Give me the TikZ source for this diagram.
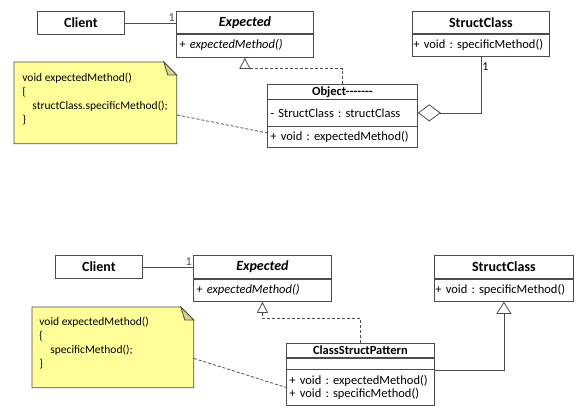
\documentclass[tikz,border=0pt]{standalone}
\usepackage{fontspec}
\setmainfont{Carlito}
\usetikzlibrary{arrows.meta,calc}
\definecolor{umlline}{rgb}{0.3,0.3,0.3}
\definecolor{noteyellow}{rgb}{1,1,0.6}
\definecolor{notefold}{rgb}{0.85,0.84,0.55}

\tikzset{
  classhead/.style={draw=umlline, fill=white, anchor=north west, inner sep=0pt, font=\fontsize{14}{16}\selectfont\bfseries},
  smallhead/.style={classhead, font=\fontsize{12.5}{14}\selectfont\bfseries},
  classbody/.style={draw=umlline, fill=white, anchor=north west, inner xsep=3pt, inner ysep=0pt, align=left, font=\fontsize{12.5}{13}\selectfont},
  notebox/.style={anchor=north west, inner sep=0pt},
  notetext/.style={anchor=north west, inner sep=0pt, align=left, font=\fontsize{11.5}{14}\selectfont},
  realize/.style={draw=umlline, dash pattern=on 3pt off 2pt, -{Triangle[open,length=11pt,width=11pt]}},
  inherit/.style={draw=umlline, -{Triangle[open,length=12pt,width=15pt]}},
  aggreg/.style={draw=umlline, {Diamond[open,length=23pt,width=17pt]}-},
  notelink/.style={draw=umlline, dash pattern=on 3pt off 2pt},
  mult/.style={font=\fontsize{12}{14}\selectfont, inner sep=1pt}
}

\newcommand{\notefolded}[1]{%
  \fill[noteyellow, draw=umlline] (#1.north west) -- ($(#1.north east)+(-13,0)$) -- ($(#1.north east)+(0,13)$) -- (#1.south east) -- (#1.south west) -- cycle;
  \fill[notefold, draw=umlline] ($(#1.north east)+(-13,0)$) -- ($(#1.north east)+(0,13)$) -- ($(#1.north east)+(-9,13)$) -- cycle;
}

\begin{document}
\frenchspacing
\begin{tikzpicture}[x=1pt,y=-1pt,line width=0.8pt]
	\useasboundingbox (0,0) rectangle (578,408);
	% upper picture: object adapter
	\node[classhead, minimum width=87pt, minimum height=23pt] (client) at (37,11) {Client};
	\node[classhead, minimum width=137pt, minimum height=22pt] (exphead) at (176,11) {\itshape Expected};
	\node[classbody, text width=131pt, minimum height=24pt] (expbody) at (176,33) {\itshape + expectedMethod()};
	\draw[umlline, line width=1.6pt] (exphead.south west) -- (exphead.south east);

	\node[classhead, minimum width=137pt, minimum height=22pt] (schead) at (412,11) {StructClass};
	\node[classbody, inner xsep=1pt, text width=135pt, minimum height=23pt] (scbody) at (412,33) {+ void : specificMethod()};
	\draw[umlline, line width=1.6pt] (schead.south west) -- (schead.south east);

	\node[smallhead, minimum width=150pt, minimum height=15pt] (objhead) at (267,84) {Object-{}-{}-{}-{}-{}-{}-};
	\node[classbody, text width=144pt, minimum height=27pt] (objattr) at (267,99) {- StructClass : structClass};
	\node[classbody, text width=144pt, minimum height=21pt] (objops) at (267,126) {+ void : expectedMethod()};

	\node[notebox, minimum width=162pt, minimum height=81pt] (note) at (14,62) {};
	\notefolded{note}
	\node[notetext] (notetxt) at (22,73) {void expectedMethod()\\\{\\\hspace*{10pt}structClass.specificMethod();\\\}};

	\draw[umlline] (client.east) -- (client.east -| exphead.west) node[mult, pos=1, above left] {1};
	\draw[realize] (objhead.north) |- ($(expbody.south)+(0,11)$) -- (expbody.south);
	\draw[aggreg] (objattr.east) -| (scbody.south) node[mult, pos=1, below right, yshift=-5pt] {1};
	\draw[notelink] ($(note.east)+(0,12)$) -- ($(objops.west)+(0,-4)$);

	% lower picture: class adapter
	\node[classhead, minimum width=87pt, minimum height=23pt] (client2) at (55,255) {Client};
	\node[classhead, minimum width=138pt, minimum height=23pt] (exphead2) at (193,255) {\itshape Expected};
	\node[classbody, text width=132pt, minimum height=23pt] (expbody2) at (193,278) {\itshape + expectedMethod()};
	\draw[umlline, line width=1.6pt] (exphead2.south west) -- (exphead2.south east);

	\node[classhead, minimum width=139pt, minimum height=23pt] (schead2) at (434,255) {StructClass};
	\node[classbody, inner xsep=1pt, text width=137pt, minimum height=23pt] (scbody2) at (434,278) {+ void : specificMethod()};
	\draw[umlline, line width=1.6pt] (schead2.south west) -- (schead2.south east);

	\node[smallhead, minimum width=148pt, minimum height=14pt] (csphead) at (286,343) {ClassStructPattern};
	\node[classbody, text width=142pt, minimum height=12pt] (csattr) at (286,357) {};
	\node[classbody, text width=142pt, minimum height=36pt] (csops) at (286,369) {+ void : expectedMethod()\\+ void : specificMethod()};
	\draw[umlline, line width=1.6pt] (csphead.south west) -- (csphead.south east);

	\node[notebox, minimum width=161pt, minimum height=80pt] (note2) at (32,307) {};
	\notefolded{note2}
	\node[notetext] (notetxt2) at (39,317) {void expectedMethod()\\\{\\\hspace*{11pt}specificMethod();\\\}};

	\draw[umlline] (client2.east) -- (client2.east -| exphead2.west) node[mult, pos=1, above left] {1};
	\draw[realize] (csphead.north) |- ($(expbody2.south)+(0,17)$) -- ($(expbody2.south)+(0,11)$) -- (expbody2.south);
	\draw[inherit] ($(csops.north east)+(0,1)$) -| (scbody2.south);
	\draw[notelink] ($(note2.east)+(0,11)$) -- (csops.west);
\end{tikzpicture}
\end{document}
